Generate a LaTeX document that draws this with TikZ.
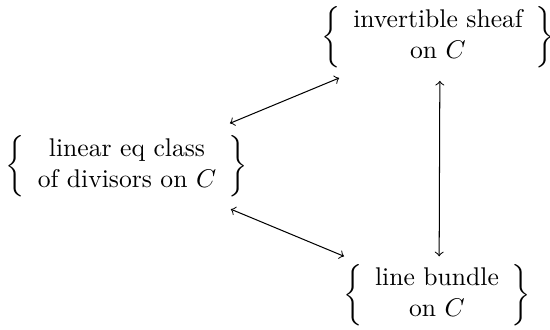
\documentclass[tikz,border=0pt]{standalone}
\usepackage{amsmath}
\usetikzlibrary{calc}
\begin{document}
\begin{tikzpicture}[x=0.3906pt,y=-0.3906pt,
  obj/.style={inner sep=0pt,outer sep=0pt},
  link/.style={<->,line width=0.4pt}]
\useasboundingbox (0,0) rectangle (550,330);
\node[obj] (l) at (127,166) {$\left\{\begin{array}{c}\text{linear eq class}\\ \text{of divisors on }C\end{array}\right\}$};
\node[obj] (t) at (438,37) {$\left\{\begin{array}{c}\text{invertible sheaf}\\ \text{on }C\end{array}\right\}$};
\node[obj] (b) at (437,295) {$\left\{\begin{array}{c}\text{line bundle}\\ \text{on }C\end{array}\right\}$};
\draw[link] ($(l)!0.331!(t)$) -- ($(l)!0.682!(t)$);
\draw[link] ($(l)!0.335!(b)$) -- ($(l)!0.70!(b)$);
\draw[link] ($(t)!0.17!(b)+(2,0)$) -- ($(t)!0.85!(b)+(2,0)$);
\end{tikzpicture}
\end{document}
